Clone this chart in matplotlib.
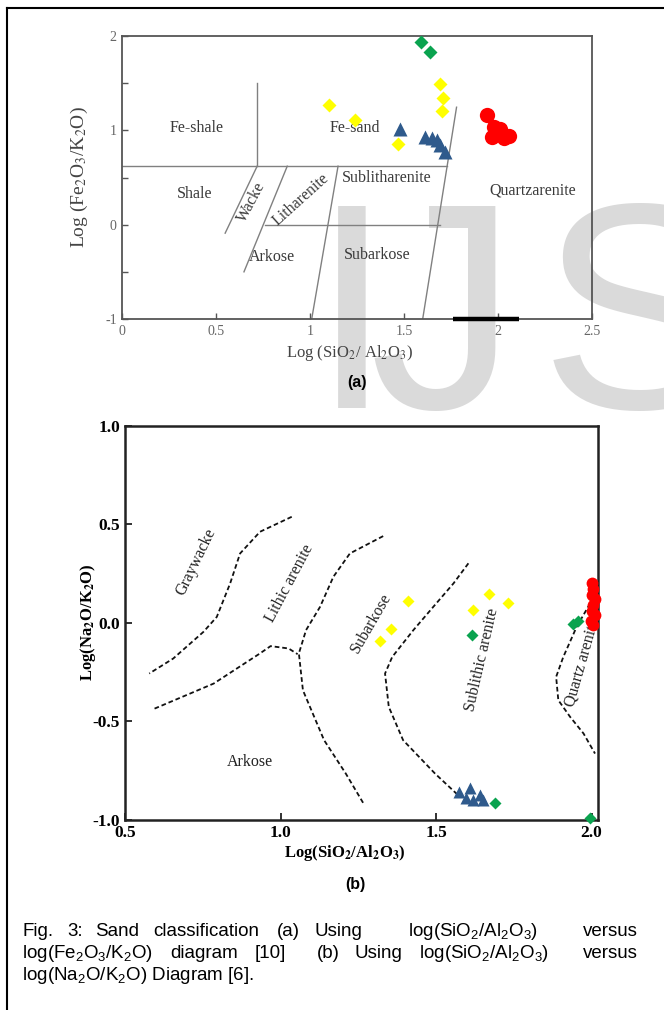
import matplotlib
matplotlib.use("Agg")
import matplotlib.pyplot as plt
from matplotlib.lines import Line2D

plt.rcParams['font.family'] = ['Liberation Serif', 'DejaVu Serif']
plt.rcParams['mathtext.fontset'] = 'custom'
plt.rcParams['mathtext.rm'] = 'Liberation Sans'
plt.rcParams['mathtext.it'] = 'Liberation Sans:italic'
plt.rcParams['mathtext.bf'] = 'Liberation Sans:bold'

# ---- panel (a): log(SiO2/Al2O3) vs log(Fe2O3/K2O)
a_yellow_x = [1.10, 1.24, 1.69, 1.71, 1.70, 1.47]
a_yellow_y = [1.27, 1.11, 1.49, 1.34, 1.20, 0.85]
a_green_x = [1.59, 1.64]
a_green_y = [1.94, 1.83]
a_blue_x = [1.48, 1.61, 1.65, 1.675, 1.69, 1.72]
a_blue_y = [1.01, 0.93, 0.92, 0.90, 0.84, 0.77]
a_red_x = [1.94, 1.98, 2.01, 1.97, 2.03, 2.06]
a_red_y = [1.16, 1.04, 1.01, 0.93, 0.92, 0.94]

# field boundaries of the diagram (x pairs, y pairs)
a_bounds = [
    ([0.72, 0.72], [0.62, 1.50]),
    ([0.00, 1.73], [0.62, 0.62]),
    ([0.72, 0.55], [0.62, -0.09]),
    ([0.88, 0.65], [0.62, -0.50]),
    ([0.76, 1.69], [0.00, 0.00]),
    ([1.15, 1.01], [0.62, -1.00]),
    ([1.78, 1.60], [1.245, -1.00]),
]
a_fields = [
    ("Fe-shale", 0.40, 1.02, 0),
    ("Fe-sand", 1.24, 1.02, 0),
    ("Shale", 0.385, 0.33, 0),
    ("Wacke", 0.69, 0.24, 62),
    ("Litharenite", 0.95, 0.27, 42),
    ("Sublitharenite", 1.41, 0.49, 0),
    ("Quartzarenite", 2.185, 0.365, 0),
    ("Arkose", 0.80, -0.34, 0),
    ("Subarkose", 1.36, -0.32, 0),
]
a_xticks = [0, 0.5, 1, 1.5, 2, 2.5]
a_xticklabels = ["0", "0.5", "1", "1.5", "2", "2.5"]
a_yticks = [-1, 0, 1, 2]
a_yticklabels = ["-1", "0", "1", "2"]

# ---- panel (b): log(SiO2/Al2O3) vs log(Na2O/K2O)
b_yellow_x = [1.41, 1.355, 1.32, 1.62, 1.67, 1.73]
b_yellow_y = [0.11, -0.03, -0.09, 0.065, 0.145, 0.10]
b_green_x = [1.615, 1.94, 1.955, 1.69, 1.995]
b_green_y = [-0.06, -0.005, 0.01, -0.915, -0.99]
b_blue_x = [1.575, 1.595, 1.61, 1.62, 1.64, 1.65]
b_blue_y = [-0.86, -0.89, -0.84, -0.90, -0.875, -0.90]
b_red_x = [2.00, 2.005, 2.00, 2.01, 2.005, 2.00, 2.01, 1.998, 2.005]
b_red_y = [0.20, 0.17, 0.14, 0.12, 0.09, 0.06, 0.04, 0.01, -0.01]

b_curves = [
    ([1.036, 0.934, 0.870, 0.838, 0.795, 0.752, 0.655, 0.578],
     [0.538, 0.462, 0.352, 0.200, 0.030, -0.046, -0.181, -0.257]),
    ([0.595, 0.785, 0.934, 0.968, 1.026, 1.055],
     [-0.435, -0.308, -0.155, -0.118, -0.130, -0.159]),
    ([1.330, 1.223, 1.170, 1.127, 1.082, 1.059, 1.072, 1.140, 1.210, 1.267],
     [0.440, 0.352, 0.234, 0.081, -0.037, -0.155, -0.342, -0.595, -0.765, -0.917]),
    ([1.604, 1.556, 1.491, 1.427, 1.359, 1.336, 1.348, 1.394, 1.497, 1.577],
     [0.302, 0.200, 0.081, -0.037, -0.173, -0.257, -0.426, -0.595, -0.765, -0.883]),
    ([1.995, 1.952, 1.909, 1.886, 1.893, 1.931, 1.974, 2.011],
     [0.098, -0.020, -0.173, -0.274, -0.392, -0.477, -0.561, -0.663]),
]
b_fields = [
    ("Graywacke", 0.73, 0.31, 64),
    ("Lithic arenite", 1.03, 0.20, 62),
    ("Subarkose", 1.29, 0.00, 60),
    ("Sublithic arenite", 1.648, -0.19, 77),
    ("Quartz arenite", 1.97, -0.20, 74),
    ("Arkose", 0.90, -0.706, 0),
]
b_xticks = [0.5, 1.0, 1.5, 2.0]
b_xticklabels = ["0.5", "1.0", "1.5", "2.0"]
b_yticks = [-1.0, -0.5, 0.0, 0.5, 1.0]
b_yticklabels = ["-1.0", "-0.5", "0.0", "0.5", "1.0"]

W, H = 664, 1010
fig = plt.figure(figsize=(W / 100, H / 100), dpi=100)


def fx(px):
    return px / W


def fy(py):
    return 1 - py / H


# page frame (left and top only)
fig.add_artist(Line2D([fx(6.5), fx(6.5)], [fy(8), 0], color='black', lw=1.5))
fig.add_artist(Line2D([fx(6.5), 1], [fy(8), fy(8)], color='black', lw=1.5))

# watermark
wm = dict(fontsize=212, color='#dadada', family='Liberation Sans', va='baseline', zorder=-5)
fig.text(fx(352), fy(408), 'I', ha='center', **wm)
fig.text(fx(517), fy(408), 'J', ha='right', **wm)
fig.text(fx(540), fy(408), 'S', ha='left', **wm)

# ---------------- panel (a)
axa = fig.add_axes([fx(121.7), fy(319), fx(592) - fx(121.7), fy(36) - fy(319)])
axa.set_facecolor('none')
axa.set_xlim(0, 2.5)
axa.set_ylim(-1, 2)
for s in axa.spines.values():
    s.set_color('#555555')
    s.set_linewidth(1.3)
axa.set_xticks(a_xticks)
axa.set_xticklabels(a_xticklabels)
axa.set_yticks(a_yticks)
axa.set_yticklabels(a_yticklabels)
axa.set_yticks([-0.5, 0.5, 1.5], minor=True)
axa.tick_params(which='both', direction='in', color='#555555', labelcolor='#666666',
                labelsize=10, length=4, width=1.0)
axa.tick_params(axis='x', pad=4)
for xs, ys in a_bounds:
    axa.plot(xs, ys, color='#808080', lw=1.0, zorder=2)
axa.plot([1.76, 2.11], [-1, -1], color='black', lw=3.2, solid_capstyle='butt', zorder=4, clip_on=False)
for txt, x, y, rot in a_fields:
    axa.text(x, y, txt, ha='center', va='center', rotation=rot, fontsize=11.5,
             color='#3a3a3a', rotation_mode='anchor')
axa.plot(a_yellow_x, a_yellow_y, 'D', color='#ffff00', ms=7, mec='none', zorder=5)
axa.plot(a_green_x, a_green_y, 'D', color='#0aa34f', ms=7, mec='none', zorder=5)
axa.plot(a_blue_x, a_blue_y, '^', color='#2f5a8c', ms=10, mec='none', zorder=5)
axa.plot(a_red_x, a_red_y, 'o', color='#ff0000', ms=11, mec='none', zorder=5)

fig.text(fx(350), fy(353), 'Log (SiO$_2$/ Al$_2$O$_3$)', ha='center', va='center',
         fontsize=12, color='#444444', math_fontfamily='stix')
fig.text(fx(79), fy(177), 'Log (Fe$_2$O$_3$/K$_2$O)', ha='center', va='center', rotation=90,
         fontsize=14, color='#444444', math_fontfamily='stix')
fig.text(fx(357), fy(383), '(a)', ha='center', va='center', fontsize=11.5,
         fontweight='bold', family='Liberation Sans')

# ---------------- panel (b)
axb = fig.add_axes([fx(125), fy(820), fx(597.5) - fx(125), fy(425.7) - fy(820)])
axb.set_facecolor('none')
axb.set_xlim(0.5, 2.019)
axb.set_ylim(-1, 1)
for s in axb.spines.values():
    s.set_color('#222222')
    s.set_linewidth(1.8)
axb.set_xticks(b_xticks)
axb.set_xticklabels(b_xticklabels)
axb.set_yticks(b_yticks)
axb.set_yticklabels(b_yticklabels)
axb.tick_params(direction='in', length=5, width=1.3, color='#222222', labelsize=12.5)
for lab in axb.get_xticklabels() + axb.get_yticklabels():
    lab.set_fontweight('bold')
for xs, ys in b_curves:
    axb.plot(xs, ys, color='#111111', lw=1.3, linestyle=(0, (2.6, 1.6)), zorder=2)
for txt, x, y, rot in b_fields:
    axb.text(x, y, txt, ha='center', va='center', rotation=rot, fontsize=11.5,
             color='#222222', rotation_mode='anchor')
axb.plot(b_yellow_x, b_yellow_y, 'D', color='#ffff00', ms=6, mec='none', zorder=5)
axb.plot(b_green_x, b_green_y, 'D', color='#0aa34f', ms=6, mec='none', zorder=5, clip_on=False)
axb.plot(b_blue_x, b_blue_y, '^', color='#2f5a8c', ms=9, mec='none', zorder=5)
axb.plot(b_red_x, b_red_y, 'o', color='#ff0000', ms=8.5, mec='none', zorder=5, clip_on=False)

fig.text(fx(345), fy(853), r'Log(SiO$_\mathbf{2}$/Al$_\mathbf{2}$O$_\mathbf{3}$)', ha='center',
         va='center', fontsize=12, fontweight='bold', math_fontfamily='stix')
fig.text(fx(88), fy(622), r'Log(Na$_\mathbf{2}$O/K$_\mathbf{2}$O)', ha='center', va='center',
         rotation=90, fontsize=12, fontweight='bold', math_fontfamily='stix')
fig.text(fx(355), fy(884), '(b)', ha='center', va='center', fontsize=11.5,
         fontweight='bold', family='Liberation Sans')

# ---------------- caption, first two lines justified (gap weights follow the original)
cap_kw = dict(fontsize=13.5, family='Liberation Sans', math_fontfamily='custom',
              va='baseline', color='black')
cap_lines = [
    (["Fig.", "3:", "Sand", "classification", "(a)", "Using",
      "log(SiO$_2$/Al$_2$O$_3$)", "versus"], 936, True, [1, 0.8, 1, 1.2, 1, 3.1, 3.1]),
    (["log(Fe$_2$O$_3$/K$_2$O)", "diagram", "[10]", "(b)", "Using",
      "log(SiO$_2$/Al$_2$O$_3$)", "versus"], 958, True, [1, 1, 1.8, 0.9, 1, 2]),
    (["log(Na$_2$O/K$_2$O) Diagram [6]."], 980, False, None),
]
renderer = fig.canvas.get_renderer()
x0, x1 = 22, 638
for words, py, just, weights in cap_lines:
    if not just:
        fig.text(fx(x0), fy(py), words[0], ha='left', **cap_kw)
        continue
    texts = [fig.text(0, fy(py), w, ha='left', **cap_kw) for w in words]
    widths = [t.get_window_extent(renderer).width for t in texts]
    unit = (x1 - x0 - sum(widths)) / sum(weights)
    x = x0
    for i, t in enumerate(texts):
        t.set_x(fx(x))
        if i < len(weights):
            x += widths[i] + unit * weights[i]

fig.savefig('out.png', dpi=100)
